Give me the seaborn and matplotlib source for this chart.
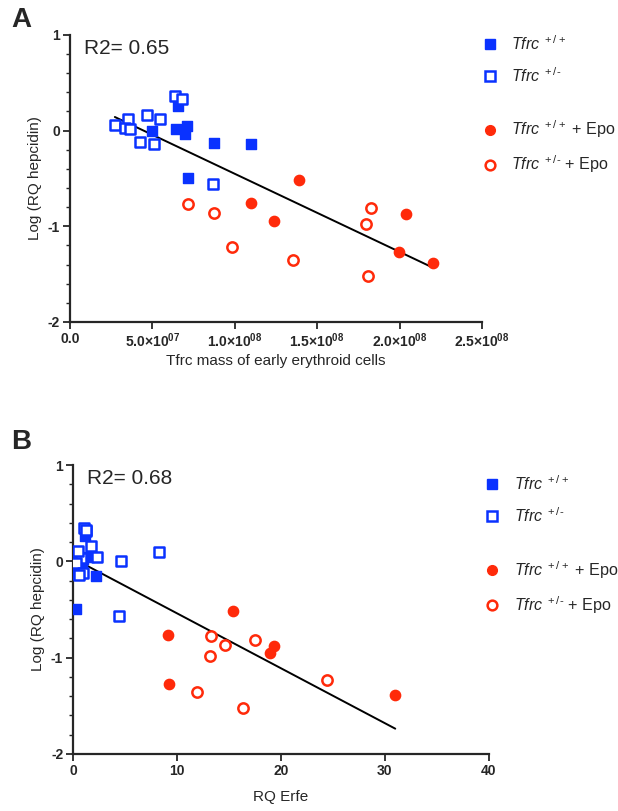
import numpy as np
import pandas as pd
import matplotlib
matplotlib.use("Agg")
import matplotlib.pyplot as plt
from matplotlib.lines import Line2D
from matplotlib.ticker import FixedLocator, MultipleLocator
import seaborn as sns

sns.set_style("ticks")
plt.rcParams['font.family'] = ['Liberation Sans', 'DejaVu Sans']
plt.rcParams['mathtext.fontset'] = 'custom'
plt.rcParams['mathtext.rm'] = 'Liberation Sans'
plt.rcParams['mathtext.it'] = 'Liberation Sans:italic'
plt.rcParams['mathtext.bf'] = 'Liberation Sans:bold'

# ---------------- data ----------------
groups = ["wt", "het", "wt_epo", "het_epo"]
labels = [r"$\mathit{Tfrc}^{\ +/+}$",
          r"$\mathit{Tfrc}^{\ +/\text{-}}$",
          r"$\mathit{Tfrc}^{\ +/+}$ + Epo",
          r"$\mathit{Tfrc}^{\ +/\text{-}}$ + Epo"]

# Panel A: Tfrc mass of early erythroid cells
a_wt_x = [4.96e7, 6.57e7, 6.41e7, 7.08e7, 6.98e7, 8.74e7, 1.098e8, 7.14e7]
a_wt_y = [0.00, 0.26, 0.02, 0.05, -0.035, -0.13, -0.14, -0.50]
a_het_x = [2.73e7, 3.54e7, 3.34e7, 3.64e7, 4.25e7, 4.69e7, 5.12e7, 5.46e7, 6.37e7, 6.82e7, 8.66e7]
a_het_y = [0.06, 0.12, 0.025, 0.02, -0.12, 0.16, -0.14, 0.12, 0.36, 0.33, -0.56]
a_wtepo_x = [1.39e8, 1.098e8, 1.238e8, 2.037e8, 1.996e8, 2.205e8]
a_wtepo_y = [-0.52, -0.76, -0.945, -0.87, -1.27, -1.38]
a_hetepo_x = [7.14e7, 8.74e7, 9.85e7, 1.355e8, 1.826e8, 1.798e8, 1.806e8]
a_hetepo_y = [-0.77, -0.86, -1.22, -1.355, -0.81, -0.98, -1.52]

# Panel B: RQ Erfe
b_wt_x = [0.6, 1.2, 1.0, 1.5, 0.9, 0.4, 2.2, 0.3]
b_wt_y = [0.00, 0.26, 0.02, 0.05, -0.035, -0.13, -0.155, -0.49]
b_het_x = [0.8, 0.48, 0.3, 1.0, 1.3, 1.7, 0.6, 2.34, 1.1, 1.3, 4.4, 4.6, 8.27]
b_het_y = [0.03, 0.11, -0.02, -0.12, 0.31, 0.16, -0.14, 0.05, 0.35, 0.33, -0.57, 0.0, 0.10]
b_wtepo_x = [15.4, 9.1, 19.3, 19.0, 9.26, 31.0]
b_wtepo_y = [-0.52, -0.765, -0.876, -0.95, -1.275, -1.39]
b_hetepo_x = [13.3, 14.6, 17.5, 13.2, 24.4, 11.9, 16.35]
b_hetepo_y = [-0.78, -0.87, -0.82, -0.98, -1.23, -1.36, -1.52]

r2_a = "R2= 0.65"
r2_b = "R2= 0.68"
a_xticks = [0, 5e7, 1e8, 1.5e8, 2e8, 2.5e8]
a_xticklabels = ["0.0", r"5.0×10$^{\mathbf{07}}$", r"1.0×10$^{\mathbf{08}}$",
                 r"1.5×10$^{\mathbf{08}}$", r"2.0×10$^{\mathbf{08}}$", r"2.5×10$^{\mathbf{08}}$"]
b_xticks = [0, 10, 20, 30, 40]
b_xticklabels = ["0", "10", "20", "30", "40"]
yticks = [-2, -1, 0, 1]

blue = "#0a32ff"
red = "#ff2a0a"

def make_df(xs_list, ys_list):
    rows = []
    for g, xs, ys in zip(groups, xs_list, ys_list):
        for x, y in zip(xs, ys):
            rows.append({"x": x, "y": y, "group": g})
    return pd.DataFrame(rows)

dfA = make_df([a_wt_x, a_het_x, a_wtepo_x, a_hetepo_x],
              [a_wt_y, a_het_y, a_wtepo_y, a_hetepo_y])
dfB = make_df([b_wt_x, b_het_x, b_wtepo_x, b_hetepo_x],
              [b_wt_y, b_het_y, b_wtepo_y, b_hetepo_y])

styles = {
    "wt": dict(marker="s", s=50, facecolor=blue, edgecolor=blue, linewidth=1.0),
    "het": dict(marker="s", s=50, facecolor="white", edgecolor=blue, linewidth=1.8),
    "wt_epo": dict(marker="o", s=55, facecolor=red, edgecolor=red, linewidth=1.0),
    "het_epo": dict(marker="o", s=55, facecolor="white", edgecolor=red, linewidth=1.8),
}

fig = plt.figure(figsize=(6.18, 8.11), dpi=100)
axA = fig.add_axes([0.113, 0.603, 0.667, 0.354])
axB = fig.add_axes([0.118, 0.0703, 0.673, 0.3563])

def handle(g):
    st = styles[g]
    return Line2D([], [], linestyle="none", marker=st["marker"], markersize=7,
                  markerfacecolor=st["facecolor"], markeredgecolor=st["edgecolor"],
                  markeredgewidth=st["linewidth"] if st["facecolor"] == "white" else 1.0)

def draw(ax, df, xlim, xticks, xticklabels, xlabel, r2, xlabelpad, leg_x, leg_y):
    sns.regplot(data=df, x="x", y="y", scatter=False, ci=None, ax=ax,
                line_kws=dict(color="black", linewidth=1.4))
    for g in groups:
        sub = df[df.group == g]
        sns.scatterplot(data=sub, x="x", y="y", ax=ax, legend=False, zorder=3, **styles[g])
    ax.set_xlim(*xlim)
    ax.set_ylim(-2, 1)
    ax.xaxis.set_major_locator(FixedLocator(xticks))
    ax.set_xticklabels(xticklabels, fontweight="bold", fontsize=10)
    ax.yaxis.set_major_locator(FixedLocator(yticks))
    ax.set_yticklabels([str(t) for t in yticks], fontweight="bold", fontsize=10)
    ax.yaxis.set_minor_locator(MultipleLocator(0.2))
    ax.tick_params(axis="both", which="major", length=5, width=1.3, direction="out", pad=2)
    ax.tick_params(axis="y", which="minor", length=3, width=1.0, direction="out")
    for sp in ["top", "right"]:
        ax.spines[sp].set_visible(False)
    for sp in ["left", "bottom"]:
        ax.spines[sp].set_linewidth(1.6)
    ax.set_xlabel(xlabel, fontsize=11, labelpad=xlabelpad)
    ax.set_ylabel("Log (RQ hepcidin)", fontsize=11, labelpad=4)
    ax.text(0.035, 0.985, r2, transform=ax.transAxes, fontsize=15, va="top", ha="left")
    kw = dict(loc="upper left", frameon=False, fontsize=11.6, handletextpad=0.85,
              labelspacing=0.82, handlelength=0.95, borderaxespad=0.0, borderpad=0.0)
    leg1 = ax.legend([handle("wt"), handle("het")], labels[:2],
                     bbox_to_anchor=(leg_x, leg_y[0]), **kw)
    ax.add_artist(leg1)
    ax.legend([handle("wt_epo"), handle("het_epo")], labels[2:],
              bbox_to_anchor=(leg_x, leg_y[1]), **kw)

draw(axA, dfA, (0, 2.5e8), a_xticks, a_xticklabels, "Tfrc mass of early erythroid cells", r2_a,
     3, 1.0, (1.003, 0.708))
draw(axB, dfB, (0, 40), b_xticks, b_xticklabels, "RQ Erfe", r2_b, 9, 0.99, (0.968, 0.675))

fig.text(0.018, 0.975, "A", fontsize=20, fontweight="bold", va="center")
fig.text(0.018, 0.455, "B", fontsize=20, fontweight="bold", va="center")

fig.savefig("out.png", dpi=100)
